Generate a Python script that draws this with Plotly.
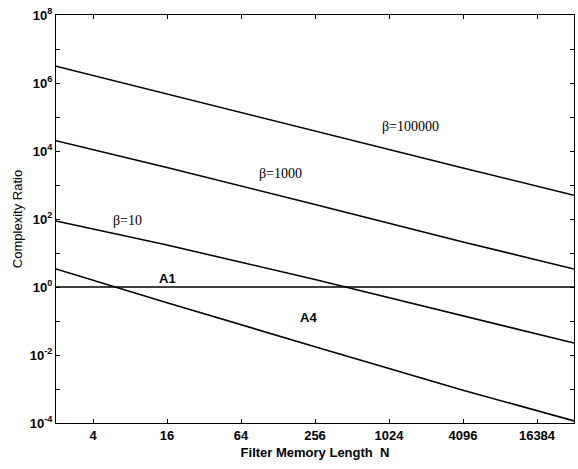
import plotly.graph_objects as go
import math

# Data (N on log2 grid, complexity ratio)
N = [2, 16, 256, 4096, 32768]
beta_100000 = [3.1e6, 4.7e5, 3.75e4, 3.16e3, 5.0e2]
beta_1000 = [2.0e4, 3.27e3, 2.67e2, 2.11e1, 3.38]
beta_10 = [87.3, 17.2, 1.66, 0.145, 0.0225]
A1 = [1, 1, 1, 1, 1]
A4 = [3.38, 0.345, 0.0175, 9.2e-4, 1.15e-4]

x_ticks = [4, 16, 64, 256, 1024, 4096, 16384]
y_major = [10.0 ** k for k in range(-4, 9, 2)]
y_minor = [10.0 ** k for k in range(-3, 8, 2)]
y_text = ["<b>10<sup>%d</sup></b>" % k for k in range(-4, 9, 2)]

labels = [
    ("β=100000", 1520, 5.1e4, "Liberation Serif", False),
    ("β=1000", 135, 2.24e3, "Liberation Serif", False),
    ("β=10", 7.7, 93, "Liberation Serif", False),
    ("A1", 16, 1.84, "Liberation Sans", True),
    ("A4", 228, 0.123, "Liberation Sans", True),
]

fig = go.Figure()
line = dict(color="black", width=1.6)
for ys in [beta_100000, beta_1000, beta_10, A1, A4]:
    fig.add_trace(go.Scatter(x=N, y=ys, mode="lines", line=line, showlegend=False))

for text, xv, yv, fam, bold in labels:
    fig.add_annotation(
        x=math.log10(xv), y=math.log10(yv), xref="x", yref="y",
        text=("<b>%s</b>" % text) if bold else text, showarrow=False,
        font=dict(family=fam, size=13 if bold else 14, color="black"),
    )

fig.update_layout(
    width=578, height=469,
    margin=dict(l=56, r=4, t=15, b=46),
    paper_bgcolor="white", plot_bgcolor="white",
    font=dict(family="Liberation Sans", color="black", size=12),
)
fig.update_xaxes(
    type="log", range=[math.log10(2), math.log10(32768)],
    tickvals=x_ticks, ticktext=["<b>%d</b>" % v for v in x_ticks],
    ticks="inside", ticklen=4, tickcolor="black",
    showline=True, linecolor="black", linewidth=1, mirror="ticks",
    showgrid=False, zeroline=False,
    tickfont=dict(size=13),
    title=dict(text="<b>Filter Memory Length  N</b>", font=dict(size=13), standoff=6),
)
fig.update_yaxes(
    type="log", range=[-4, 8],
    tickvals=y_major, ticktext=y_text,
    minor=dict(tickvals=y_minor, ticks="inside", ticklen=4, tickcolor="black", showgrid=False),
    ticks="inside", ticklen=4, tickcolor="black",
    showline=True, linecolor="black", linewidth=1, mirror="ticks",
    showgrid=False, zeroline=False,
    tickfont=dict(size=13),
    title=dict(text="Complexity Ratio", font=dict(size=13), standoff=4),
)

fig.write_html("out.html")
